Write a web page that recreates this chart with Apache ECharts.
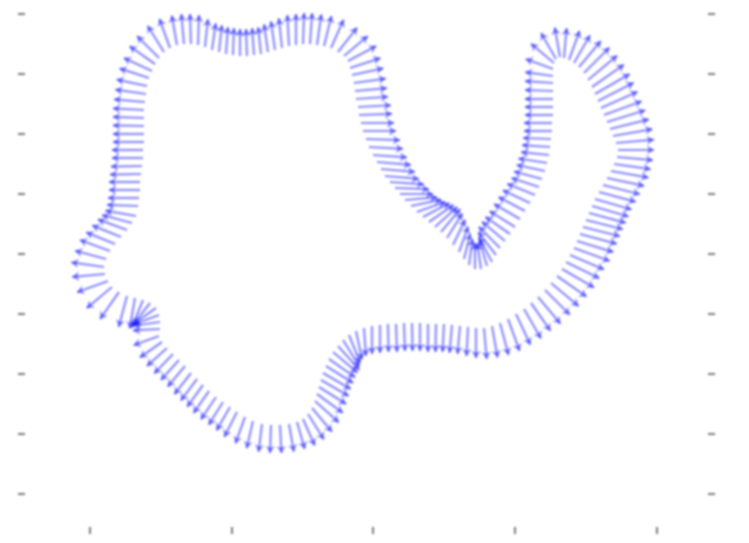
<!DOCTYPE html>
<html>
<head>
<meta charset="utf-8">
<script src="https://cdn.jsdelivr.net/npm/echarts@6/dist/echarts.min.js"></script>
<style>
html,body{margin:0;padding:0;background:#fff;}
#chart{width:749px;height:543px;filter:blur(0.9px);}
</style>
</head>
<body>
<div id="chart"></div>
<script>
// Tick positions (chart units)
const xTicks = [90, 232, 373, 515, 657];
const yTicks = [14, 74, 134, 194, 254, 314, 374, 434, 494];

// Arrow tails (x, y), direction in degrees (90 = up), and length
const tailX = [
138,139,140,140,141,142,143,143,144,144,144,144,144,145,146,147,149,152,155,159,164,170,
177,184,191,198,205,212,219,226,233,240,247,254,261,268,275,282,289,296,303,310,317,324,331,338,344,
348,350,352,354,355,356,358,359,361,363,366,369,373,377,381,385,390,395,400,405,411,417,423,429,435,441,447,453,459,464,469,475,481,487,
492,496,500,505,510,515,520,525,530,535,539,542,545,547,549,550,551,552,552,553,553,553,553,553,553,553,554,
556,560,564,569,574,579,584,588,592,595,598,601,604,607,610,613,616,618,
617,614,611,607,603,599,595,592,589,586,583,580,577,574,570,566,562,557,551,545,538,531,524,516,508,500,492,484,476,468,460,
452,444,436,428,420,412,404,396,388,380,372,364,356,
349,343,338,333,329,326,323,321,319,317,315,312,308,303,297,
289,280,271,262,253,245,237,
230,223,216,209,203,197,191,185,179,173,167,162,159,
160,160,159,156,150,143,135,127,119,112,108,105,104,106,110,115,121,127,132,136
];
const tailY = [
206,198,190,182,174,166,158,150,142,134,126,118,110,102,94,86,78,71,64,58,52,48,
45,44,44,45,47,50,52,54,55,56,56,55,54,52,50,48,46,45,44,44,45,46,48,52,56,
61,68,75,83,91,99,107,115,123,131,139,147,155,162,169,176,182,188,194,200,206,212,217,222,227,232,238,245,252,259,265,269,269,266,
262,255,248,241,234,227,219,211,203,195,187,179,171,163,155,147,139,131,123,115,107,99,91,83,76,69,63,
59,57,58,60,63,67,73,80,87,94,101,108,115,122,129,136,143,150,
157,164,171,178,185,192,199,206,213,220,227,234,241,248,255,262,269,276,283,290,297,303,309,314,319,323,326,328,328,327,326,
325,324,324,324,323,323,323,324,324,325,326,328,331,
335,340,346,352,359,366,373,380,387,394,401,408,414,419,422,
424,425,425,424,421,417,412,
407,402,397,391,385,379,373,366,360,354,348,342,336,
329,322,315,308,303,300,298,296,292,287,281,274,267,259,251,244,237,230,223,216
];
const arrowAngle = [
178,180,180,180,181,181,180,180,180,180,179,178,177,175,172,168,162,155,145,135,122,110,
100,95,92,88,84,82,84,86,88,90,92,94,96,98,98,96,93,90,88,86,82,76,66,52,40,
28,18,12,8,5,4,3,2,0,0,-2,-3,-4,-5,-5,-5,-4,-2,0,5,12,20,28,35,42,50,58,64,70,76,82,90,98,106,
118,128,135,140,145,148,150,152,155,158,162,165,168,171,174,176,178,180,180,180,180,180,178,176,172,160,140,
120,100,85,70,60,50,45,40,35,30,27,24,20,17,14,10,5,0,
-5,-8,-10,-12,-14,-15,-16,-16,-15,-14,-14,-15,-17,-20,-23,-26,-30,-35,-40,-45,-50,-55,-60,-65,-70,-75,-80,-85,-90,-93,-95,
-95,-93,-91,-90,-90,-89,-88,-88,-89,-90,-90,-86,-78,
-68,-58,-48,-40,-35,-32,-30,-30,-32,-36,-42,-50,-58,-66,-74,
-80,-87,-92,-97,-103,-110,-117,
-120,-122,-124,-125,-126,-127,-128,-130,-132,-134,-138,-145,-160,
-177,-172,-160,-145,-128,-112,-100,-105,-125,-140,-160,-175,172,165,160,158,158,160,165,170
];
const arrowLen = [
31,31,31,31,31,31,31,31,31,31,31,31,31,31,31,31,31,31,31,31,31,31,
30,30,30,30,28,27,27,27,27,27,27,27,27,28,29,30,31,31,31,31,31,31,31,31,31,
32,32,32,32,32,32,33,33,33,33,34,34,34,34,34,34,34,34,33,32,31,30,30,30,30,30,29,28,27,26,26,26,26,27,
28,29,30,30,30,30,30,30,30,30,29,29,29,29,28,28,28,28,28,28,28,28,28,28,28,29,30,
30,30,30,31,32,34,36,38,39,40,40,40,40,40,40,40,38,36,
36,37,38,38,38,38,38,38,38,38,38,38,38,38,37,37,37,36,36,35,35,34,34,34,34,33,32,31,30,29,28,
28,28,28,28,28,28,28,28,28,28,28,28,29,
30,31,32,32,32,32,32,32,32,32,32,31,30,29,28,
28,28,28,28,28,28,28,
27,27,27,27,27,27,27,27,27,27,27,27,27,
27,27,27,28,29,30,31,32,33,33,33,33,33,32,32,31,31,31,31,31
];

const arrows = tailX.map((x, i) => {
  const y = tailY[i];
  const a = arrowAngle[i] * Math.PI / 180;
  const L = arrowLen[i];
  return { coords: [[x, y], [x + L * Math.cos(a), y - L * Math.sin(a)]] };
});

const tickStyle = { color: '#7a7a7a', width: 2 };
const chart = echarts.init(document.getElementById('chart'), null, { renderer: 'canvas' });
chart.setOption({
  animation: false,
  backgroundColor: '#ffffff',
  grid: { left: 18, right: 34, top: 0, bottom: 9 },
  xAxis: {
    type: 'value', min: 18, max: 715,
    axisLine: { show: false, onZero: false }, splitLine: { show: false },
    axisLabel: { show: false },
    axisTick: { show: true, inside: true, length: 7, lineStyle: tickStyle, customValues: xTicks }
  },
  yAxis: [
    {
      type: 'value', min: 0, max: 534, inverse: true, position: 'left',
      axisLine: { show: false, onZero: false }, splitLine: { show: false },
      axisLabel: { show: false },
      axisTick: { show: true, inside: true, length: 7, lineStyle: tickStyle, customValues: yTicks }
    },
    {
      type: 'value', min: 0, max: 534, inverse: true, position: 'right',
      axisLine: { show: false, onZero: false }, splitLine: { show: false },
      axisLabel: { show: false },
      axisTick: { show: true, inside: true, length: 7, lineStyle: tickStyle, customValues: yTicks }
    }
  ],
  series: [{
    type: 'lines',
    coordinateSystem: 'cartesian2d',
    xAxisIndex: 0, yAxisIndex: 0,
    symbol: ['none', 'arrow'],
    symbolSize: 7,
    lineStyle: { color: '#1a1aff', width: 2.2, opacity: 0.5, curveness: 0 },
    data: arrows
  }]
});
</script>
</body>
</html>
